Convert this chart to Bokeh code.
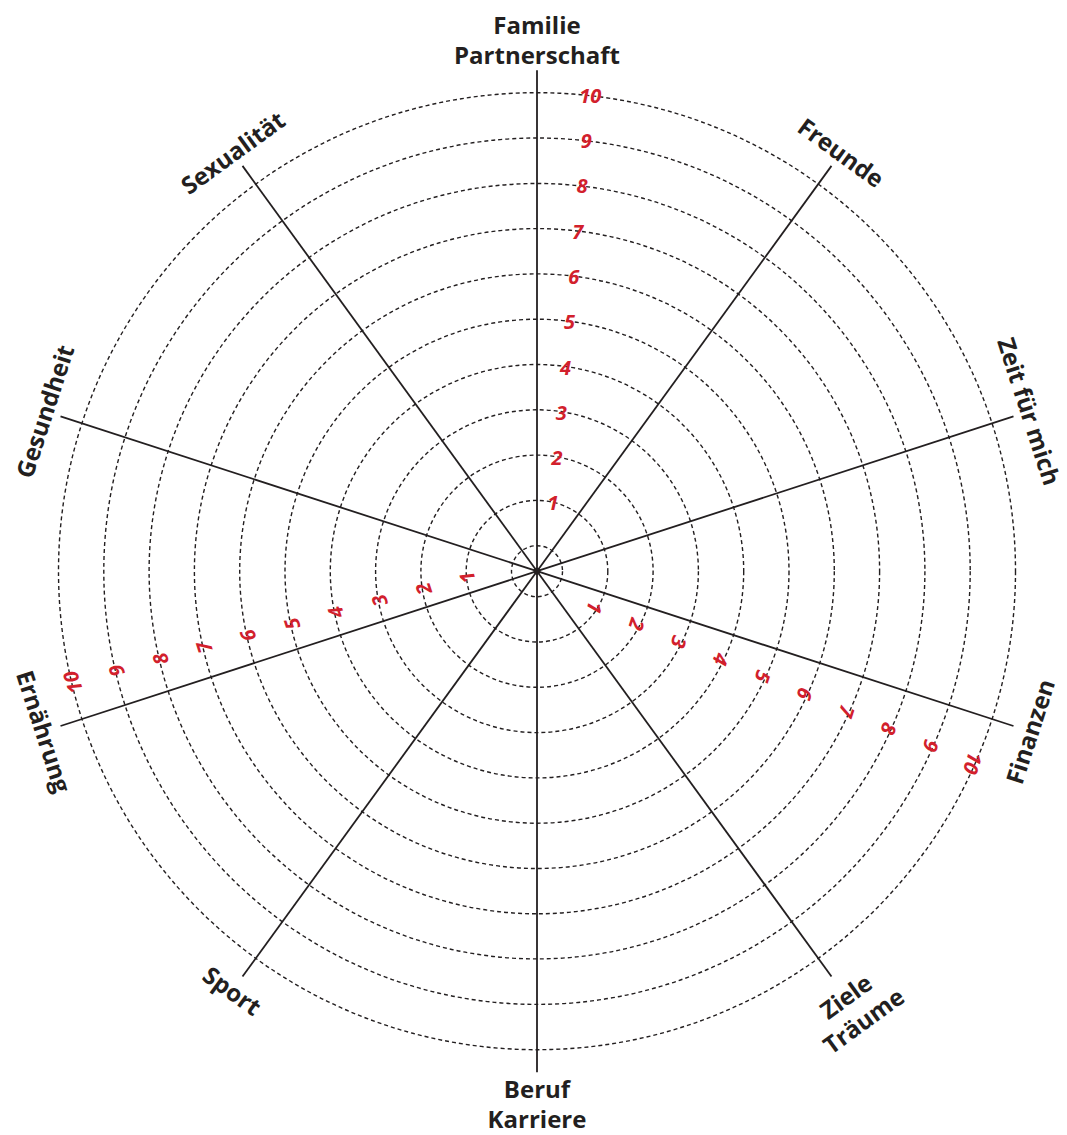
import numpy as np
from bokeh.plotting import figure
from bokeh.models import Range1d
from bokeh.core.properties import value
from bokeh.embed import file_html
from bokeh.resources import INLINE

# ---- data ----
categories = ["Familie\nPartnerschaft", "Freunde", "Zeit für mich", "Finanzen",
              "Ziele\nTräume", "Beruf\nKarriere", "Sport", "Ernährung",
              "Gesundheit", "Sexualität"]
spoke_angles_deg = [90, 54, 18, -18, -54, -90, -126, -162, 162, 126]
ring_values = [0, 1, 2, 3, 4, 5, 6, 7, 8, 9, 10]
tick_values = [1, 2, 3, 4, 5, 6, 7, 8, 9, 10]
tick_labels = ["1", "2", "3", "4", "5", "6", "7", "8", "9", "10"]
scaled_spokes = ["Familie\nPartnerschaft", "Finanzen", "Ernährung"]

# ---- styling / geometry ----
INNER = 25.5      # px radius of value 0
STEP = 45.3       # px per unit
SPOKE_LEN = 501
W, H = 1067, 1135
CX, CY = 536.5, 570.7   # centre in figure pixels (from top-left)
DARK = "#231f20"
RED = "#d2202c"
FONT = "Open Sans"
LINE_SP = 30
# offsets of the scale numbers from their spoke (along shift, perp base, perp slope)
NUM_OFFSETS = {"Familie\nPartnerschaft": (-3, 9.5, 0.0915),
               "Finanzen": (-5, 11.0, 0.077),
               "Ernährung": (-3, 12.0, 0.054)}


def rad(v):
    return INNER + STEP * np.asarray(v, dtype=float)


p = figure(width=W, height=H, output_backend="svg", toolbar_location=None,
           x_range=Range1d(-CX, W - CX), y_range=Range1d(-(H - CY), CY),
           min_border=0, background_fill_color="white", border_fill_color="white")
p.axis.visible = False
p.grid.visible = False
p.outline_line_color = None

# rings
p.circle(x=[0] * len(ring_values), y=[0] * len(ring_values), radius=rad(ring_values),
         fill_color=None, line_color=DARK, line_width=1.4, line_dash="4 3")

# spokes
th = np.radians(spoke_angles_deg)
p.segment(x0=[0] * len(th), y0=[0] * len(th),
          x1=SPOKE_LEN * np.cos(th), y1=SPOKE_LEN * np.sin(th),
          line_color=DARK, line_width=1.8)
p.scatter([0], [0], size=6, color=DARK)

# category labels (one text per line)
lx, ly, la, lt = [], [], [], []
for name, a in zip(categories, spoke_angles_deg):
    t = np.radians(a)
    lines = name.split("\n")
    nl = len(lines)
    if nl == 1:
        r = 518
    else:
        r = 540 if name.startswith("Ziele") else 532
    cx, cy = r * np.cos(t), r * np.sin(t)
    rot = np.radians(a - 90 if np.sin(t) > 1e-9 else a + 90)
    down = np.array([np.sin(rot), -np.cos(rot)])
    for i, ln in enumerate(lines):
        off = (i - (nl - 1) / 2) * LINE_SP
        lx.append(cx + off * down[0])
        ly.append(cy + off * down[1])
        la.append(rot)
        lt.append(ln)
p.text(x=lx, y=ly, text=lt, angle=la, text_font=value(FONT), text_font_size="24px",
       text_font_style="bold", text_color=DARK, text_align="center",
       text_baseline="middle")

# scale numbers
tx, ty, ta, tt = [], [], [], []
for name, a in zip(categories, spoke_angles_deg):
    if name not in scaled_spokes:
        continue
    sh, pb, ps = NUM_OFFSETS[name]
    t = np.radians(a)
    u = np.array([np.cos(t), np.sin(t)])
    n = np.array([np.sin(t), -np.cos(t)])
    for v, lab in zip(tick_values, tick_labels):
        r = float(rad(v))
        pos = (r + sh) * u + (pb + ps * r) * n
        tx.append(pos[0])
        ty.append(pos[1])
        ta.append(np.radians(a - 90))
        tt.append(lab)
p.text(x=tx, y=ty, text=tt, angle=ta, text_font=value(FONT), text_font_size="20px",
       text_font_style="bold italic", text_color=RED, text_align="center",
       text_baseline="middle")

open("out.html", "w").write(file_html(p, INLINE))
